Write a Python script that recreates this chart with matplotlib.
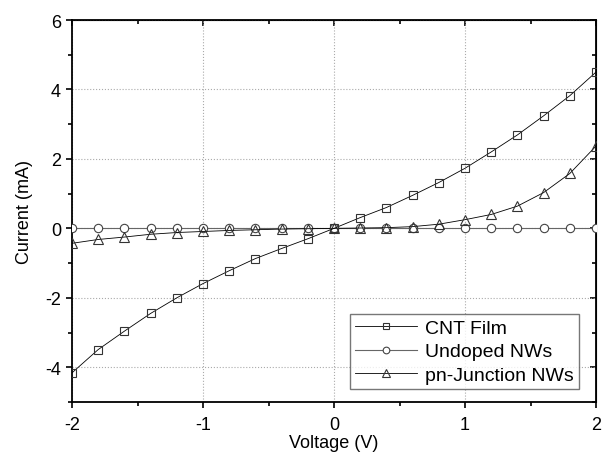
import numpy as np
import matplotlib
matplotlib.use("Agg")
import matplotlib.pyplot as plt
from matplotlib.ticker import MultipleLocator

plt.rcParams['font.family'] = ['Liberation Sans', 'DejaVu Sans']
plt.rcParams['axes.unicode_minus'] = False

voltage = [-2.0, -1.8, -1.6, -1.4, -1.2, -1.0, -0.8, -0.6, -0.4, -0.2, 0.0,
           0.2, 0.4, 0.6, 0.8, 1.0, 1.2, 1.4, 1.6, 1.8, 2.0]
cnt_film = [-4.16, -3.49, -2.96, -2.45, -2.0, -1.59, -1.22, -0.87, -0.58, -0.30, 0.0,
            0.31, 0.60, 0.95, 1.32, 1.73, 2.20, 2.69, 3.24, 3.82, 4.50]
undoped = [0.0] * 21
pn_junction = [-0.43, -0.32, -0.25, -0.17, -0.12, -0.09, -0.06, -0.04, -0.02, -0.01, 0.0,
               0.01, 0.02, 0.05, 0.12, 0.25, 0.40, 0.64, 1.03, 1.58, 2.37]

fig = plt.figure(figsize=(6.03, 4.56), dpi=100)
ax = fig.add_axes([72 / 603, 1 - 403 / 456, 524 / 603, 382 / 456])

ax.plot(voltage, undoped, color='#666666', lw=0.8, marker='o', ms=6,
        mfc='white', mec='#444444', mew=0.8, label='Undoped NWs', zorder=3)
ax.plot(voltage, pn_junction, color='black', lw=0.6, marker='^', ms=7,
        mfc='none', mec='#333333', mew=0.8, label='pn-Junction NWs', zorder=4)
ax.plot(voltage, cnt_film, color='black', lw=0.6, marker='s', ms=6,
        mfc='none', mec='#333333', mew=0.8, label='CNT Film', zorder=5)

ax.set_xlim(-2, 2)
ax.set_ylim(-5, 6)
ax.xaxis.set_major_locator(MultipleLocator(1))
ax.xaxis.set_minor_locator(MultipleLocator(0.5))
ax.yaxis.set_major_locator(MultipleLocator(2))
ax.yaxis.set_minor_locator(MultipleLocator(1))
ax.tick_params(which='both', labelsize=13, width=1.2, direction='out')
ax.tick_params(axis='x', which='both', pad=6)
ax.tick_params(axis='y', which='both', pad=4)
ax.tick_params(which='major', length=4)
ax.tick_params(which='minor', length=3)
ax.grid(True, which='major', color='#aaaaaa', ls=':', lw=0.8)
for s in ax.spines.values():
    s.set_linewidth(1.3)

# inward ticks on the top and right edges
top = ax.secondary_xaxis('top')
top.xaxis.set_major_locator(MultipleLocator(1))
top.xaxis.set_minor_locator(MultipleLocator(0.5))
top.tick_params(which='both', direction='in', labeltop=False, width=1.2)
top.tick_params(which='major', length=4)
top.tick_params(which='minor', length=3)
right = ax.secondary_yaxis('right')
right.yaxis.set_major_locator(MultipleLocator(2))
right.yaxis.set_minor_locator(MultipleLocator(1))
right.tick_params(which='both', direction='in', labelright=False, width=1.2)
right.tick_params(which='major', length=4)
right.tick_params(which='minor', length=3)

ax.set_xticklabels([f'{int(v)}' for v in ax.get_xticks()])
ax.set_xlabel('Voltage (V)', fontsize=13, labelpad=1)
ax.set_ylabel('Current (mA)', fontsize=13, labelpad=9)

handles, labels = ax.get_legend_handles_labels()
order = [2, 0, 1]
leg = ax.legend([handles[i] for i in order], [labels[i] for i in order],
                loc='lower right', bbox_to_anchor=(0.967, 0.035), fontsize=14,
                frameon=True, fancybox=False, edgecolor='#555555',
                handlelength=3.2, handletextpad=0.4, borderpad=0.25,
                labelspacing=0.3, markerscale=0.8, borderaxespad=0)
leg.get_frame().set_linewidth(1.0)

fig.savefig('out.png', dpi=100)
